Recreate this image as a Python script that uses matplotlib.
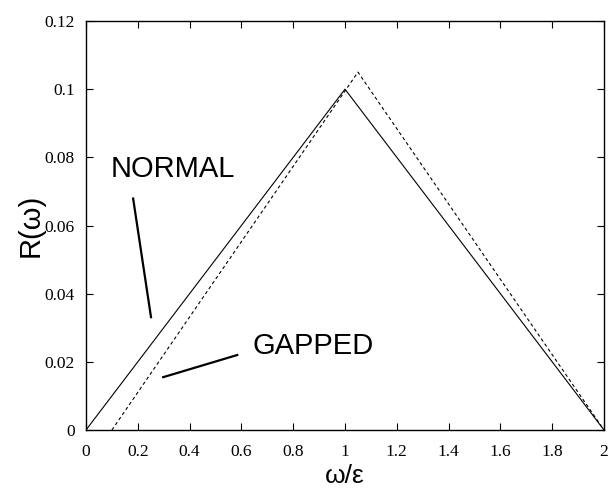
import numpy as np
import matplotlib.pyplot as plt

# curve data
normal_x = [0.0, 1.0, 2.0]
normal_y = [0.0, 0.1, 0.0]
gapped_x = [0.1, 1.05, 2.0]
gapped_y = [0.0, 0.105, 0.0]

xticks = [0, 0.2, 0.4, 0.6, 0.8, 1, 1.2, 1.4, 1.6, 1.8, 2]
xtick_labels = ['0', '0.2', '0.4', '0.6', '0.8', '1', '1.2', '1.4', '1.6', '1.8', '2']
yticks = [0, 0.02, 0.04, 0.06, 0.08, 0.1, 0.12]
ytick_labels = ['0', '0.02', '0.04', '0.06', '0.08', '0.1', '0.12']

# label pointer lines
normal_ptr_x = [0.182, 0.251]
normal_ptr_y = [0.0679, 0.0331]
gapped_ptr_x = [0.584, 0.298]
gapped_ptr_y = [0.022, 0.0155]

fig = plt.figure(figsize=(6.16, 4.92), dpi=100)
ax = fig.add_axes([86 / 616, 62 / 492, 518 / 616, 409 / 492])

ax.plot(normal_x, normal_y, color='black', lw=0.8)
ax.plot(gapped_x, gapped_y, color='black', lw=0.8, dashes=(3, 2.5))

ax.plot(normal_ptr_x, normal_ptr_y, color='black', lw=1.6)
ax.plot(gapped_ptr_x, gapped_ptr_y, color='black', lw=1.6)

ax.text(0.094, 0.0765, 'NORMAL', fontsize=21, family='Liberation Sans', va='center', ha='left')
ax.text(0.642, 0.0245, 'GAPPED', fontsize=21, family='Liberation Sans', va='center', ha='left')

ax.set_xlim(0, 2)
ax.set_ylim(0, 0.12)
ax.set_xticks(xticks)
ax.set_xticklabels(xtick_labels, family='Liberation Serif', fontsize=12.5)
ax.set_yticks(yticks)
ax.set_yticklabels(ytick_labels, family='Liberation Serif', fontsize=12.5)
ax.tick_params(direction='in', top=True, right=True, length=5, width=0.8)
ax.tick_params(axis='x', pad=10)
ax.tick_params(axis='y', pad=8)
for s in ax.spines.values():
    s.set_linewidth(1.0)

ax.set_xlabel('ω/ε', family='Liberation Sans', fontsize=19, labelpad=3)
ax.set_ylabel('R(ω)', family='Liberation Sans', fontsize=21, labelpad=0)

fig.savefig('out.png', dpi=100)
